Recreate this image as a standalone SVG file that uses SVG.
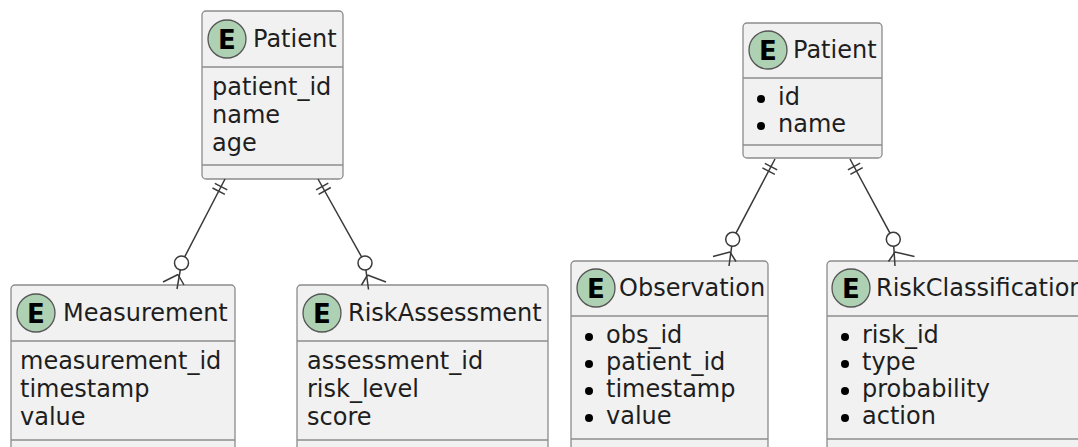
<svg xmlns="http://www.w3.org/2000/svg" width="1078" height="447" viewBox="0 0 1078 447">
  <style>
    .box { fill: #F1F1F1; stroke: #8c8c8c; stroke-width: 1.3; }
    .sep { stroke: #8c8c8c; stroke-width: 1.3; }
    .badge { fill: #ADD1B2; stroke: #555555; stroke-width: 1.3; }
    .badge-txt { font-family: "DejaVu Sans", sans-serif; font-weight: bold; font-size: 26px; fill: #000000; text-anchor: middle; }
    .t { font-family: "DejaVu Sans", sans-serif; font-size: 24px; fill: #1e1e1e; }
    .dot { fill: #000000; }
    .link { fill: none; stroke: #3a3a3a; stroke-width: 1.5; }
    .ring { fill: #FFFFFF; stroke: #3a3a3a; stroke-width: 1.5; }
  </style>

  <!-- left model -->
  <g id="patient-left">
    <rect class="box" x="202" y="11" width="141" height="168" rx="4"/>
    <circle class="badge" cx="227" cy="39" r="19"/>
    <text class="badge-txt" x="227" y="48.5">E</text>
    <text class="t" x="253" y="47">Patient</text>
    <line class="sep" x1="202" y1="67" x2="343" y2="67"/>
    <text class="t" x="212" y="95">patient_id</text>
    <text class="t" x="212" y="123">name</text>
    <text class="t" x="212" y="151">age</text>
    <line class="sep" x1="202" y1="165" x2="343" y2="165"/>
  </g>

  <g id="measurement">
    <rect class="box" x="11" y="285" width="224" height="170" rx="4"/>
    <circle class="badge" cx="36" cy="313" r="19"/>
    <text class="badge-txt" x="36" y="322.5">E</text>
    <text class="t" x="63" y="321">Measurement</text>
    <line class="sep" x1="11" y1="341" x2="235" y2="341"/>
    <text class="t" x="20" y="369">measurement_id</text>
    <text class="t" x="20" y="397">timestamp</text>
    <text class="t" x="20" y="425">value</text>
    <line class="sep" x1="11" y1="440" x2="235" y2="440"/>
  </g>

  <g id="risk-assessment">
    <rect class="box" x="297" y="285" width="251" height="170" rx="4"/>
    <circle class="badge" cx="322" cy="313" r="19"/>
    <text class="badge-txt" x="322" y="322.5">E</text>
    <text class="t" x="348" y="321">RiskAssessment</text>
    <line class="sep" x1="297" y1="341" x2="548" y2="341"/>
    <text class="t" x="307" y="369">assessment_id</text>
    <text class="t" x="307" y="397">risk_level</text>
    <text class="t" x="307" y="425">score</text>
    <line class="sep" x1="297" y1="440" x2="548" y2="440"/>
  </g>

  <!-- right model -->
  <g id="patient-right">
    <rect class="box" x="743" y="23" width="139" height="135" rx="4"/>
    <circle class="badge" cx="768" cy="50" r="19"/>
    <text class="badge-txt" x="768" y="59.5">E</text>
    <text class="t" x="793" y="58">Patient</text>
    <line class="sep" x1="743" y1="78" x2="882" y2="78"/>
    <circle class="dot" cx="761" cy="99" r="4"/>
    <text class="t" x="778" y="105">id</text>
    <circle class="dot" cx="761" cy="126" r="4"/>
    <text class="t" x="778" y="132">name</text>
    <line class="sep" x1="743" y1="145" x2="882" y2="145"/>
  </g>

  <g id="observation">
    <rect class="box" x="571" y="261" width="197" height="195" rx="4"/>
    <circle class="badge" cx="596" cy="288" r="19"/>
    <text class="badge-txt" x="596" y="297.5">E</text>
    <text class="t" x="619" y="296">Observation</text>
    <line class="sep" x1="571" y1="316" x2="768" y2="316"/>
    <circle class="dot" cx="589" cy="337" r="4"/>
    <text class="t" x="606" y="343">obs_id</text>
    <circle class="dot" cx="589" cy="364" r="4"/>
    <text class="t" x="606" y="370">patient_id</text>
    <circle class="dot" cx="589" cy="391" r="4"/>
    <text class="t" x="606" y="397">timestamp</text>
    <circle class="dot" cx="589" cy="418" r="4"/>
    <text class="t" x="606" y="424">value</text>
    <line class="sep" x1="571" y1="439" x2="768" y2="439"/>
  </g>

  <g id="risk-classification">
    <rect class="box" x="827" y="261" width="262" height="195" rx="4"/>
    <circle class="badge" cx="851" cy="288" r="19"/>
    <text class="badge-txt" x="851" y="297.5">E</text>
    <text class="t" x="876" y="296">RiskClassification</text>
    <line class="sep" x1="827" y1="316" x2="1089" y2="316"/>
    <circle class="dot" cx="845" cy="337" r="4"/>
    <text class="t" x="862" y="343">risk_id</text>
    <circle class="dot" cx="845" cy="364" r="4"/>
    <text class="t" x="862" y="370">type</text>
    <circle class="dot" cx="845" cy="391" r="4"/>
    <text class="t" x="862" y="397">probability</text>
    <circle class="dot" cx="845" cy="418" r="4"/>
    <text class="t" x="862" y="424">action</text>
    <line class="sep" x1="827" y1="439" x2="1089" y2="439"/>
  </g>

  <!-- one-to-many (zero or more) relations -->
  <g id="links">
    <!-- Patient -> Measurement -->
    <path class="link" d="M225,179 L181.5,263 L177,289"/>
    <path class="link" d="M214.8,183.4 L227.3,189.9 M212.5,188 L224.9,194.4"/>
    <path class="link" d="M178,274.5 L163,282 M178,274.5 L184,285"/>
    <circle class="ring" cx="181.5" cy="263" r="7"/>

    <!-- Patient -> RiskAssessment -->
    <path class="link" d="M318,179 L365,263 L368.5,289.5"/>
    <path class="link" d="M316.1,189.9 L328.3,183.1 M318.6,194.4 L330.8,187.5"/>
    <path class="link" d="M367.5,275 L386,282 M367.5,275 L361.5,285"/>
    <circle class="ring" cx="365" cy="263" r="7"/>

    <!-- Patient -> Observation -->
    <path class="link" d="M775,159 L732.7,239.3 L729,266"/>
    <path class="link" d="M764.8,163.4 L777.2,169.9 M762.4,167.9 L774.8,174.4"/>
    <path class="link" d="M730,252 L713,256.5 M730,252 L736,261.5"/>
    <circle class="ring" cx="732.7" cy="239.3" r="7"/>

    <!-- Patient -> RiskClassification -->
    <path class="link" d="M850,159 L893.3,239.3 L895,266"/>
    <path class="link" d="M847.9,169.9 L860.2,163.2 M850.4,174.4 L862.7,167.7"/>
    <path class="link" d="M895,252 L914.5,256.5 M895,252 L888.5,261.5"/>
    <circle class="ring" cx="893.3" cy="239.3" r="7"/>
  </g>
</svg>
